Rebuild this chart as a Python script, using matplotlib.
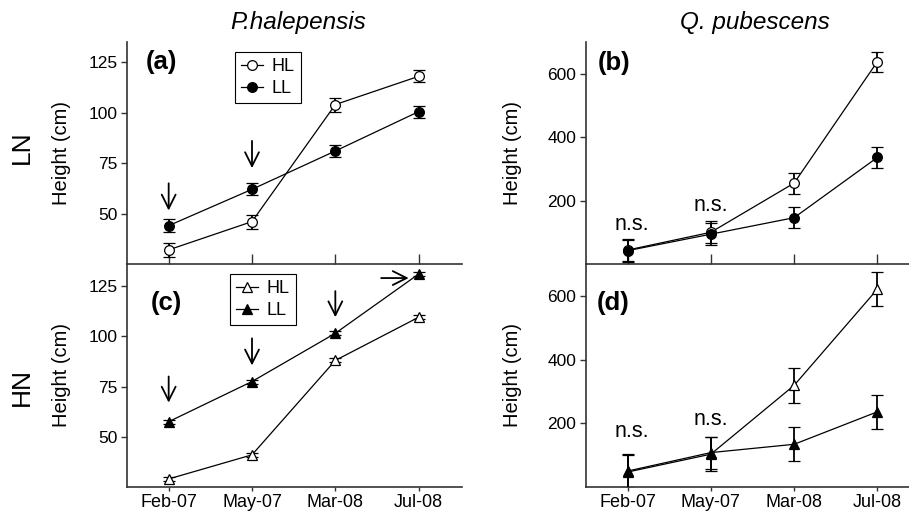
import numpy as np
import matplotlib
matplotlib.use('Agg')
import matplotlib.pyplot as plt
from matplotlib.lines import Line2D

plt.rcParams['font.family'] = ['Liberation Sans', 'DejaVu Sans']

months = ['Feb-07', 'May-07', 'Mar-08', 'Jul-08']

# (a) P. halepensis, LN
a_hl = [32, 46, 104, 118]
a_hl_err = [3.5, 3.5, 3.5, 3]
a_ll = [44, 62, 81, 100.5]
a_ll_err = [3.2, 3, 3, 3]
# (b) Q. pubescens, LN
b_hl = [44, 100, 255, 638]
b_hl_err = [35, 34, 33, 32]
b_ll = [42, 94, 146, 336]
b_ll_err = [35, 34, 33, 33]
# (c) P. halepensis, HN
c_hl = [29, 41, 88, 109.5]
c_hl_err = [1, 1, 1, 1]
c_ll = [57.5, 77.5, 101.5, 131]
c_ll_err = [1, 1, 1, 1]
# (d) Q. pubescens, HN
d_hl = [47, 103, 319, 621]
d_hl_err = [53, 53, 54, 53]
d_ll = [50, 108, 134, 236]
d_ll_err = [53, 50, 53, 53]

W, H = 909, 513
fig = plt.figure(figsize=(W / 100, H / 100), dpi=100)

spine_c = '#333333'


def make_ax(rect, top):
    ax = fig.add_axes(rect)
    for s in ['top', 'right']:
        ax.spines[s].set_visible(False)
    for s in ['left', 'bottom']:
        ax.spines[s].set_color(spine_c)
        ax.spines[s].set_linewidth(1.2)
    ax.tick_params(axis='y', direction='out', length=4, width=1, colors=spine_c,
                   labelcolor='black', labelsize=12.5, pad=3)
    if top:
        ax.tick_params(axis='x', direction='in', length=7, width=1, colors=spine_c,
                       labelbottom=False)
    else:
        ax.tick_params(axis='x', direction='out', length=3, width=1, colors=spine_c,
                       labelcolor='black', labelsize=13, pad=2)
    ax.patch.set_alpha(0)
    return ax


x = np.arange(len(months))

ax_a = make_ax([127 / W, 0.4854, 335 / W, 0.4327], True)
ax_b = make_ax([586 / W, 0.4854, 323 / W, 0.4327], True)
ax_c = make_ax([127 / W, 0.0507, 335 / W, 0.4347], False)
ax_d = make_ax([586 / W, 0.0507, 323 / W, 0.4347], False)
# top row above bottom row so its x-axis line shows
ax_a.set_zorder(3)
ax_b.set_zorder(3)


def series(ax, y, err, marker, filled):
    ms = 7 if marker == 'o' else 7.5
    fc = 'black' if filled else 'white'
    ax.errorbar(x, y, yerr=err, fmt='-', color='black', lw=0.9, marker=marker,
                ms=ms, mfc=fc, mec='black', mew=0.9,
                ecolor='black', elinewidth=1.3, capsize=4, capthick=1.3, zorder=3)
    return Line2D([], [], color='black', lw=0.9, marker=marker, ms=ms, mfc=fc,
                  mec='black', mew=0.9)


h1 = series(ax_a, a_hl, a_hl_err, 'o', False)
h2 = series(ax_a, a_ll, a_ll_err, 'o', True)
series(ax_b, b_hl, b_hl_err, 'o', False)
series(ax_b, b_ll, b_ll_err, 'o', True)
h3 = series(ax_c, c_hl, c_hl_err, '^', False)
h4 = series(ax_c, c_ll, c_ll_err, '^', True)
series(ax_d, d_hl, d_hl_err, '^', False)
series(ax_d, d_ll, d_ll_err, '^', True)

for ax, lp in [(ax_a, 12), (ax_c, 12), (ax_b, 18), (ax_d, 18)]:
    ax.set_xticks(x)
    ax.set_xticklabels(months)
    ax.set_ylabel('Height (cm)', fontsize=14.5, labelpad=lp)

ax_a.set_xlim(-0.5, 3.52)
ax_c.set_xlim(-0.5, 3.52)
ax_b.set_xlim(-0.5, 3.38)
ax_d.set_xlim(-0.5, 3.38)

ax_a.set_ylim(25, 135)
ax_a.set_yticks([50, 75, 100, 125])
ax_c.set_ylim(25, 136)
ax_c.set_yticks([50, 75, 100, 125])
ax_b.set_ylim(0, 700)
ax_b.set_yticks([200, 400, 600])
ax_d.set_ylim(0, 700)
ax_d.set_yticks([200, 400, 600])

# legends
for ax, hs, anchor in [(ax_a, [h1, h2], (0.322, 0.955)), (ax_c, [h3, h4], (0.307, 0.955))]:
    leg = ax.legend(hs, ['HL', 'LL'], loc='upper left', bbox_to_anchor=anchor,
                    fontsize=13, handlelength=1.2, handletextpad=0.5, borderpad=0.35,
                    labelspacing=0.25, fancybox=False, framealpha=1,
                    edgecolor='black', borderaxespad=0)
    leg.get_frame().set_linewidth(0.8)

# panel labels
for ax, lab, pos in [(ax_a, '(a)', (0.055, 0.91)), (ax_b, '(b)', (0.035, 0.905)),
                     (ax_c, '(c)', (0.07, 0.825)), (ax_d, '(d)', (0.032, 0.825))]:
    ax.text(pos[0], pos[1], lab, transform=ax.transAxes, fontsize=18.5,
            fontweight='bold', va='center', ha='left')

# significance arrows
arrow_kw = dict(arrowstyle='->', lw=1.3, color='black', mutation_scale=25,
                shrinkA=0, shrinkB=0)
for xi, y0, y1 in [(0, 65, 51.5), (1, 86, 72.5)]:
    ax_a.annotate('', xy=(xi, y1), xytext=(xi, y0), arrowprops=arrow_kw)
for xi, y0, y1 in [(0, 80, 67), (1, 99, 85.5), (2, 122.5, 109.5)]:
    ax_c.annotate('', xy=(xi, y1), xytext=(xi, y0), arrowprops=arrow_kw)
ax_c.annotate('', xy=(2.88, 129), xytext=(2.55, 129), arrowprops=arrow_kw)

# n.s. labels
for ax, pts in [(ax_b, [(0.05, 124), (1.0, 184)]), (ax_d, [(0.05, 173), (1.0, 213)])]:
    for xi, yi in pts:
        ax.text(xi, yi, 'n.s.', fontsize=15.5, ha='center', va='center')

# column titles and row labels
fig.text(298 / W, 1 - 23 / H, 'P.halepensis', fontsize=17.5, style='italic',
         ha='center', va='center')
fig.text(755 / W, 1 - 23 / H, 'Q. pubescens', fontsize=17.5, style='italic',
         ha='center', va='center')
fig.text(22 / W, 1 - 147 / H, 'LN', fontsize=19, rotation=90, ha='center', va='center')
fig.text(22 / W, 1 - 387 / H, 'HN', fontsize=19, rotation=90, ha='center', va='center')

fig.savefig('out.png', dpi=100)
